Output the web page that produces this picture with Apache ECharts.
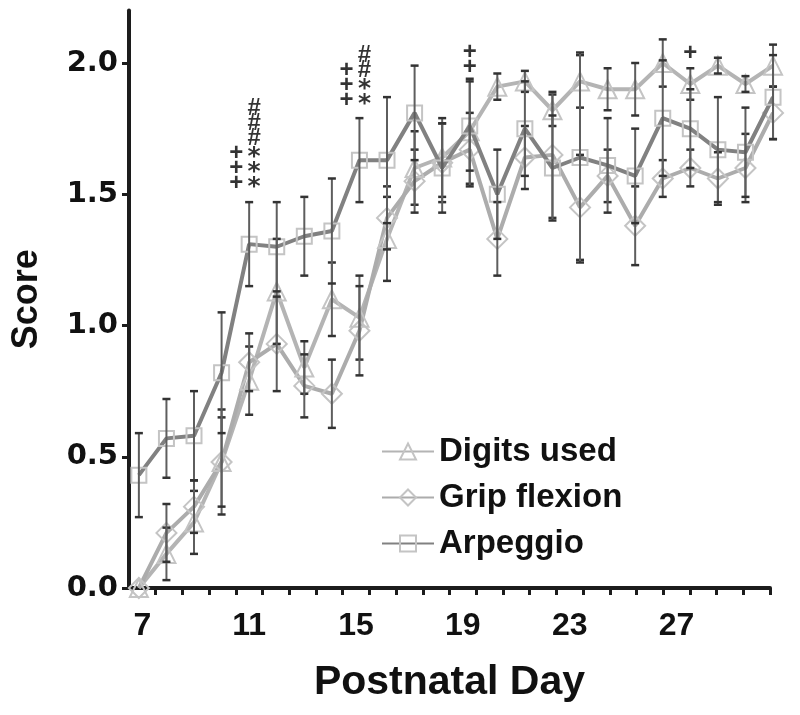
<!DOCTYPE html>
<html>
<head>
<meta charset="utf-8">
<script src="https://cdn.jsdelivr.net/npm/echarts@6/dist/echarts.min.js"></script>
<style>html,body{margin:0;padding:0;background:#fff}#c{width:800px;height:715px}</style>
</head>
<body>
<div id="c"></div>
<script>
// ---------- data ----------
const days = [7, 8, 9, 10, 11, 12, 13, 14, 15, 16, 17, 18, 19, 20, 21, 22, 23, 24, 25, 26, 27, 28, 29, 30];
const digitsMean = [0.00, 0.13, 0.25, 0.48, 0.79, 1.13, 0.84, 1.10, 1.03, 1.33, 1.60, 1.64, 1.74, 1.91, 1.93, 1.82, 1.93, 1.90, 1.90, 2.00, 1.92, 1.99, 1.92, 1.99];
const digitsSem  = [0.00, 0.10, 0.12, 0.20, 0.13, 0.20, 0.10, 0.14, 0.16, 0.16, 0.14, 0.15, 0.20, 0.05, 0.04, 0.06, 0.10, 0.08, 0.10, 0.09, 0.06, 0.03, 0.03, 0.08];
const gripMean   = [0.00, 0.21, 0.31, 0.48, 0.86, 0.93, 0.77, 0.74, 0.98, 1.41, 1.55, 1.62, 1.67, 1.33, 1.64, 1.65, 1.45, 1.57, 1.38, 1.56, 1.60, 1.56, 1.60, 1.81];
const gripSem    = [0.00, 0.11, 0.10, 0.17, 0.11, 0.18, 0.12, 0.13, 0.17, 0.12, 0.12, 0.15, 0.14, 0.14, 0.12, 0.24, 0.20, 0.10, 0.15, 0.07, 0.07, 0.10, 0.13, 0.10];
const arpMean    = [0.43, 0.57, 0.58, 0.82, 1.31, 1.30, 1.34, 1.36, 1.63, 1.63, 1.81, 1.60, 1.76, 1.50, 1.75, 1.60, 1.64, 1.61, 1.57, 1.79, 1.75, 1.67, 1.66, 1.87];
const arpSem     = [0.16, 0.15, 0.17, 0.23, 0.16, 0.17, 0.15, 0.20, 0.16, 0.24, 0.18, 0.17, 0.17, 0.17, 0.18, 0.20, 0.40, 0.18, 0.18, 0.22, 0.15, 0.20, 0.17, 0.16];
const seriesNames = ['Digits used', 'Grip flexion', 'Arpeggio'];
const xTickLabels = [7, 11, 15, 19, 23, 27];
const yTickLabels = [0, 0.5, 1.0, 1.5, 2.0];
// significance marks (stacked top to bottom): [day, y of bottom, text]
const annoLeft   = [[11, 1.514, '+++'], [15, 1.83, '+++']];
const annoRight  = [[11, 1.514, '###***'], [15, 1.83, '##**']];
const annoCenter = [[19, 1.956, '++'], [27, 2.01, '+']];

// ---------- chart ----------
const chart = echarts.init(document.getElementById('c'), null, {renderer: 'canvas'});
const AX = '#1c1c1c';
const xTickPositions = days.map(d => d + 0.5);

function pts(mean) { return days.map((d, i) => [d, mean[i]]); }
function errData(mean, sem) { return days.map((d, i) => [d, mean[i] - sem[i], mean[i] + sem[i]]); }
function errSeries(mean, sem) {
  return {
    type: 'custom', xAxisIndex: 1, yAxisIndex: 0, z: 5, silent: true, clip: false,
    data: errData(mean, sem),
    renderItem: function (params, api) {
      const lo = api.coord([api.value(0), api.value(1)]);
      const hi = api.coord([api.value(0), api.value(2)]);
      if (Math.abs(lo[1] - hi[1]) < 0.5) return null;
      const w = 4, st = {stroke: '#5e5e5e', lineWidth: 2};
      return {type: 'group', children: [
        {type: 'line', shape: {x1: lo[0], y1: lo[1], x2: hi[0], y2: hi[1]}, style: st},
        {type: 'line', shape: {x1: lo[0] - w, y1: lo[1], x2: lo[0] + w, y2: lo[1]}, style: {stroke: '#333', lineWidth: 2.5}},
        {type: 'line', shape: {x1: hi[0] - w, y1: hi[1], x2: hi[0] + w, y2: hi[1]}, style: {stroke: '#333', lineWidth: 2.5}}
      ]};
    }
  };
}
function lineSeries(name, mean, color, symbol, size, z) {
  return {
    name: name, type: 'line', xAxisIndex: 1, yAxisIndex: 0, data: pts(mean), clip: false,
    symbol: symbol, symbolSize: size, showAllSymbol: true, z: z,
    lineStyle: {color: color, width: 4},
    itemStyle: {color: 'rgba(255,255,255,0)', borderColor: '#c4c4c4', borderWidth: 2},
    emphasis: {disabled: true}
  };
}
function annoSeries(list, dx) {
  return {
    type: 'scatter', xAxisIndex: 1, yAxisIndex: 0, symbolSize: 0, z: 10, silent: true, clip: false,
    data: list.map(a => ({value: [a[0], a[1]], text: a[2]})),
    label: {
      show: true, position: 'inside', offset: [dx, 0], align: 'center', verticalAlign: 'bottom',
      formatter: p => p.data.text.split('').map(c => c === '*' ? '{s|*}' : '{p|' + c + '}').join('\n'),
      rich: {
        p: {fontFamily: 'Liberation Sans, Arial, sans-serif', fontWeight: 'bold', fontSize: 24, lineHeight: 15, color: '#000', align: 'center'},
        s: {fontFamily: 'DejaVu Sans, sans-serif', fontWeight: 'bold', fontSize: 25, lineHeight: 15, color: '#000', align: 'center', padding: [9, 0, 0, 0]}
      }
    }
  };
}

const option = {
  animation: false,
  backgroundColor: '#fff',
  grid: {left: 129, right: 30, top: 10.5, bottom: 127, containLabel: false},
  legend: {
    orient: 'vertical', left: 376, top: 430, itemWidth: 52, itemHeight: 20, itemGap: 13,
    data: seriesNames,
    textStyle: {fontFamily: 'Liberation Sans, Arial, sans-serif', fontWeight: 'bold', fontSize: 33, color: '#111'},
    selectedMode: false
  },
  xAxis: [{
    type: 'value', min: 6.5, max: 30.5,
    name: 'Postnatal Day', nameLocation: 'middle', nameGap: 74,
    nameTextStyle: {fontFamily: 'Liberation Sans, Arial, sans-serif', fontWeight: 'bold', fontSize: 41, color: '#111'},
    axisLine: {show: true, onZero: false, lineStyle: {color: AX, width: 4}},
    axisTick: {show: true, length: 7, lineStyle: {color: AX, width: 3}, customValues: xTickPositions},
    axisLabel: {customValues: xTickLabels, margin: 22, fontFamily: 'Liberation Sans, Arial, sans-serif', fontWeight: 'bold', fontSize: 32, color: '#111'},
    splitLine: {show: false}
  }, {
    type: 'value', min: 6.642, max: 29.89, show: false
  }],
  yAxis: {
    type: 'value', min: 0, max: 2.2,
    name: 'Score', nameLocation: 'middle', nameGap: 84, nameRotate: 90,
    nameTextStyle: {fontFamily: 'Liberation Sans, Arial, sans-serif', fontWeight: 'bold', fontSize: 36, color: '#111'},
    axisLine: {show: true, lineStyle: {color: AX, width: 4}},
    axisTick: {show: true, length: 7, lineStyle: {color: AX, width: 3}, customValues: yTickLabels},
    axisLabel: {customValues: yTickLabels, margin: 11, formatter: v => v.toFixed(1),
      fontFamily: 'DejaVu Sans, sans-serif', fontWeight: 'bold', fontSize: 29, color: '#111'},
    splitLine: {show: false}
  },
  series: [
    errSeries(digitsMean, digitsSem),
    errSeries(gripMean, gripSem),
    errSeries(arpMean, arpSem),
    lineSeries(seriesNames[0], digitsMean, '#b4b4b4', 'triangle', 18, 3),
    lineSeries(seriesNames[1], gripMean, '#acacac', 'diamond', 20, 3),
    lineSeries(seriesNames[2], arpMean, '#818181', 'rect', 15, 4),
    annoSeries(annoLeft, -13),
    annoSeries(annoRight, 5),
    annoSeries(annoCenter, 0)
  ]
};
chart.setOption(option);
</script>
</body>
</html>
